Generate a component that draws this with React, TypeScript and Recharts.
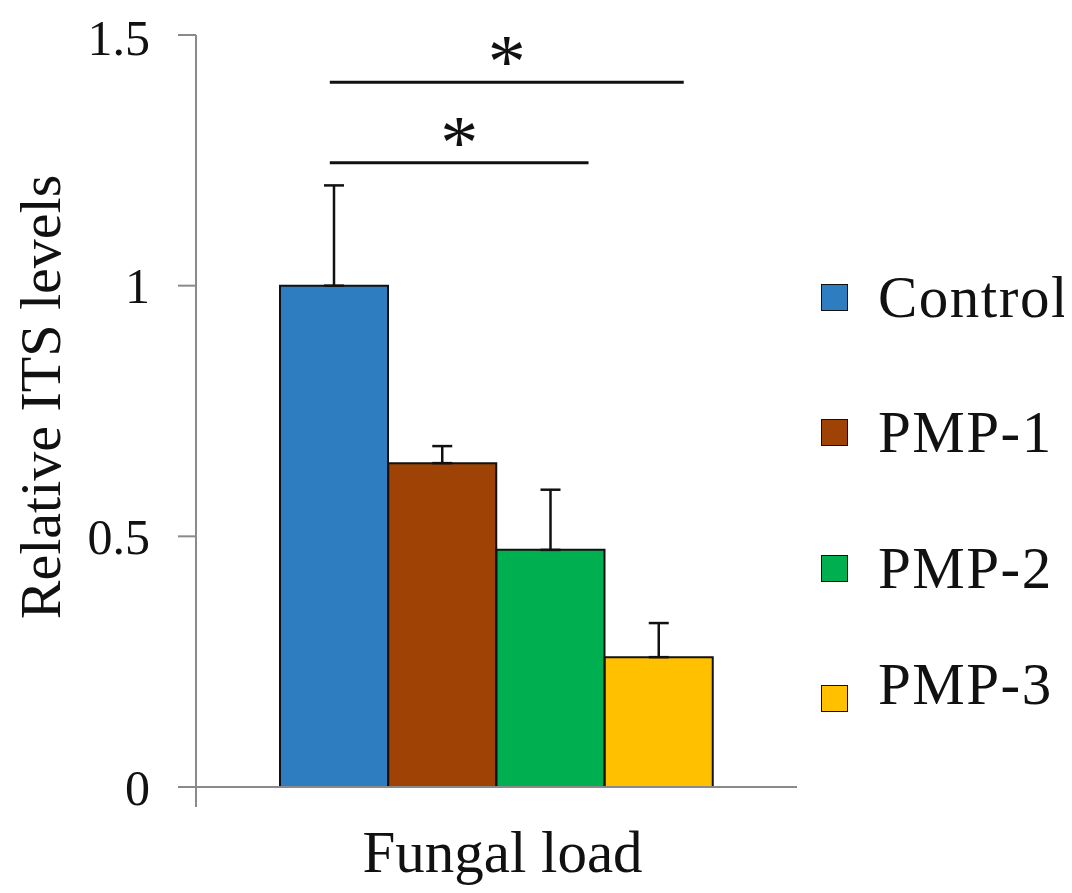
import React from "react";
import { BarChart, Bar, Cell, XAxis, YAxis, ErrorBar, ReferenceLine, Legend } from "recharts";

const categories = ["Control", "PMP-1", "PMP-2", "PMP-3"];
const values = [1.0, 0.646, 0.473, 0.259];
const errors = [0.2, 0.034, 0.12, 0.068];
const colors = ["#2E7DC1", "#9E4305", "#00AF4F", "#FFC000"];
const slots = [0.5, 1.5, 2.5, 3.5];
const yTicks = [0, 0.5, 1, 1.5];
const xTitle = "Fungal load";
const yTitle = "Relative ITS levels";
// significance brackets (x in bar-width units on hidden axis, y in data units)
const sigStart = [0.46, 0.46];
const sigEnd = [3.73, 2.85];
const sigLevel = [1.406, 1.245];
const sigText = ["*", "*"];

const data = categories.map((c, i) => ({ name: c, slot: slots[i], value: values[i], err: [0, errors[i]] }));

const FONT = "'Liberation Serif', 'Times New Roman', serif";
const AXIS = "#8a8a8a";

const StarLabel = (text: string) => (props: any) => {
  const vb = props.viewBox || {};
  return (
    <text x={vb.x + vb.width / 2} y={vb.y + 5} textAnchor="middle" fontFamily={FONT} fontSize={76} fill="#111">
      {text}
    </text>
  );
};

const XTitle = (props: any) => {
  const vb = props.viewBox || {};
  return (
    <text x={vb.x + vb.width / 2 + 6} y={vb.y + 85} textAnchor="middle" fontFamily={FONT} fontSize={59} fill="#111">
      {xTitle}
    </text>
  );
};

const YTitle = (props: any) => {
  const vb = props.viewBox || {};
  const x = vb.x + 52;
  const y = vb.y + vb.height / 2 - 14;
  return (
    <text x={x} y={y} transform={`rotate(-90 ${x} ${y})`} textAnchor="middle" fontFamily={FONT} fontSize={58} fill="#111">
      {yTitle}
    </text>
  );
};

const EmptyTick = () => <g />;

const legendTops = [289, 424, 560, 676];
const LegendContent = () => (
  <div style={{ position: "relative", width: 244, height: 460 }}>
    {categories.map((c, i) => (
      <div
        key={c}
        style={{
          position: "absolute",
          left: 0,
          top: legendTops[i] - 255 - 35,
          height: 70,
          display: "flex",
          alignItems: "center",
          fontFamily: FONT,
          fontSize: 59,
          letterSpacing: 1.5,
          color: "#111",
          whiteSpace: "nowrap",
        }}
      >
        <div
          style={{
            width: 25,
            height: 25,
            background: colors[i],
            border: "1.5px solid #111",
            marginRight: 30,
            position: "relative",
            top: i === 3 ? 14 : 0,
          }}
        />
        <span style={{ lineHeight: "70px" }}>{c}</span>
      </div>
    ))}
  </div>
);

export default function App() {
  return (
    <BarChart
      width={1056}
      height={877}
      data={data}
      margin={{ top: 27, right: 267, bottom: 68, left: 0 }}
      barCategoryGap={0}
      barGap={0}
    >
      <XAxis xAxisId="cat" dataKey="name" type="category" hide orientation="top" height={0} padding={{ left: 84, right: 84 }} />
      <XAxis
        xAxisId="ann"
        dataKey="slot"
        type="number"
        domain={[0, 4]}
        hide
        orientation="top"
        height={0}
        padding={{ left: 84, right: 84 }}
        allowDataOverflow
      />
      <XAxis
        xAxisId="frame"
        type="number"
        domain={[0, 1]}
        ticks={[0]}
        tick={EmptyTick}
        tickSize={20}
        height={30}
        axisLine={{ stroke: AXIS, strokeWidth: 2 }}
        tickLine={{ stroke: AXIS, strokeWidth: 2 }}
        label={<XTitle />}
      />
      <YAxis
        domain={[0, 1.5]}
        ticks={yTicks}
        width={188}
        tickSize={18}
        tickMargin={28}
        axisLine={{ stroke: AXIS, strokeWidth: 2 }}
        tickLine={{ stroke: AXIS, strokeWidth: 2 }}
        tick={{ fill: "#111", fontSize: 50, fontFamily: FONT }}
        label={<YTitle />}
      />
      <Legend
        layout="horizontal"
        verticalAlign="middle"
        align="center"
        content={<LegendContent />}
        wrapperStyle={{ position: "absolute", left: 813, top: 255, width: 244 }}
      />
      <Bar xAxisId="cat" dataKey="value" stroke="#111" strokeWidth={2} isAnimationActive={false}>
        {data.map((d, i) => (
          <Cell key={d.name} fill={colors[i]} />
        ))}
        <ErrorBar dataKey="err" direction="y" width={10} stroke="#111" strokeWidth={2.5} isAnimationActive={false} />
      </Bar>
      {sigStart.map((s, i) => (
        <ReferenceLine
          key={i}
          xAxisId="ann"
          segment={[
            { x: s, y: sigLevel[i] },
            { x: sigEnd[i], y: sigLevel[i] },
          ]}
          stroke="#111"
          strokeWidth={3}
          ifOverflow="visible"
          label={StarLabel(sigText[i])}
        />
      ))}
    </BarChart>
  );
}
